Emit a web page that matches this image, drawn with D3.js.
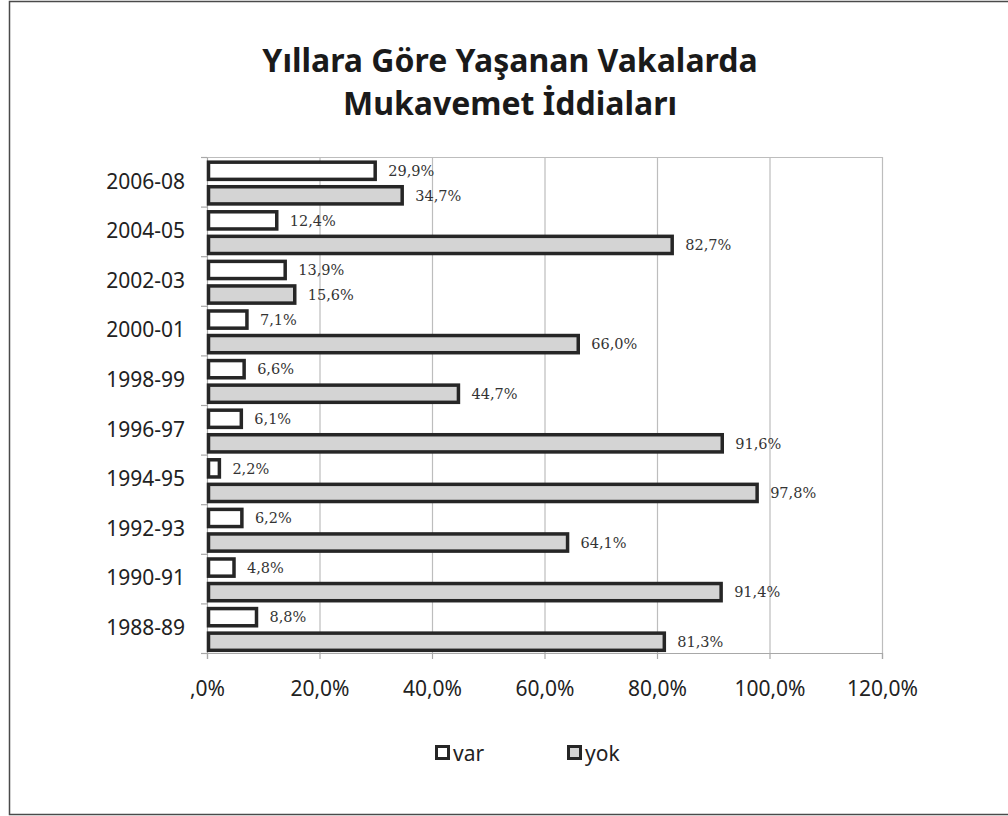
<!DOCTYPE html>
<html>
<head>
<meta charset="utf-8">
<script src="https://cdn.jsdelivr.net/npm/d3@7"></script>
<style>
  html, body { margin: 0; padding: 0; background: #fff; }
  svg { display: block; }
</style>
</head>
<body>
<svg id="chart" width="1008" height="816"></svg>
<script>
// Period categories, listed top to bottom as drawn
const periods = ["2006-08", "2004-05", "2002-03", "2000-01", "1998-99",
                 "1996-97", "1994-95", "1992-93", "1990-91", "1988-89"];
// Share of cases with a resistance claim ("var") and without ("yok"), in percent
const varValues = [29.9, 12.4, 13.9, 7.1, 6.6, 6.1, 2.2, 6.2, 4.8, 8.8];
const yokValues = [34.7, 82.7, 15.6, 66.0, 44.7, 91.6, 97.8, 64.1, 91.4, 81.3];
const seriesNames = ["var", "yok"];
const xTicks = [0, 20, 40, 60, 80, 100, 120];
const titleLines = ["Yıllara Göre Yaşanan Vakalarda", "Mukavemet İddiaları"];

const svg = d3.select("#chart");
const sansFont = "'Noto Sans', 'Open Sans', sans-serif";
const serifFont = "'DejaVu Serif', serif";

// outer frame
svg.append("rect")
  .attr("x", 9.5).attr("y", 1.5).attr("width", 1010).attr("height", 813)
  .attr("fill", "#fff").attr("stroke", "#4a4a4a").attr("stroke-width", 1.5);

// title
svg.append("g").selectAll("text").data(titleLines).join("text")
  .attr("x", 510).attr("y", (d, i) => 72 + i * 43)
  .attr("text-anchor", "middle")
  .attr("font-family", sansFont).attr("font-weight", "bold")
  .attr("font-size", 32).attr("fill", "#1a1a1a")
  .text(d => d);

const plot = { left: 207, right: 882, top: 157, bottom: 653 };

const x = d3.scaleLinear().domain([0, 120]).range([plot.left, plot.right]);
const y = d3.scaleBand().domain(periods).range([plot.top, plot.bottom]).padding(0);
const yInner = d3.scaleBand().domain(seriesNames)
  .range([1.25, y.bandwidth() + 1.25]).paddingInner(0.3).paddingOuter(0.16);

const fmtTick = v => (v === 0 ? "" : d3.format("d")(v)) + ",0%";
const fmtLabel = v => v.toFixed(1).replace(".", ",") + "%";

// vertical gridlines
svg.append("g").selectAll("line").data(xTicks.slice(1)).join("line")
  .attr("x1", d => x(d) + 0.5).attr("x2", d => x(d) + 0.5)
  .attr("y1", plot.top).attr("y2", plot.bottom)
  .attr("stroke", "#bdbdbd").attr("stroke-width", 1.2);

// top border of plot area
svg.append("line")
  .attr("x1", plot.left).attr("x2", plot.right)
  .attr("y1", plot.top + 0.5).attr("y2", plot.top + 0.5)
  .attr("stroke", "#bdbdbd").attr("stroke-width", 1.2);

// x axis
const xAxis = svg.append("g")
  .attr("transform", `translate(0,${plot.bottom})`)
  .call(d3.axisBottom(x).tickValues(xTicks).tickFormat(fmtTick).tickSize(6).tickPadding(22));
xAxis.select(".domain").attr("stroke", "#a8a8a8").attr("stroke-width", 1.2);
xAxis.selectAll(".tick line").attr("stroke", "#a8a8a8").attr("stroke-width", 1.2);
xAxis.selectAll(".tick text")
  .attr("font-family", sansFont).attr("font-size", 21).attr("fill", "#222");

// y axis with ticks at category boundaries
const yAxis = svg.append("g")
  .attr("transform", `translate(${plot.left},0)`)
  .call(d3.axisLeft(y).tickSize(0).tickPadding(22));
yAxis.select(".domain").attr("stroke", "#a8a8a8").attr("stroke-width", 1.2);
yAxis.selectAll(".tick text")
  .attr("font-family", sansFont).attr("font-size", 21).attr("fill", "#222");
const boundaries = periods.map(p => y(p)).concat([plot.bottom]);
svg.append("g").selectAll("line").data(boundaries).join("line")
  .attr("x1", plot.left - 6).attr("x2", plot.left)
  .attr("y1", d => d + 0.5).attr("y2", d => d + 0.5)
  .attr("stroke", "#a8a8a8").attr("stroke-width", 1.2);

// bars
const rows = periods.map((p, i) => ({ period: p, var: varValues[i], yok: yokValues[i] }));
const fills = { var: "#ffffff", yok: "#d4d4d4" };

const groups = svg.append("g").selectAll("g").data(rows).join("g")
  .attr("transform", d => `translate(0,${y(d.period)})`);

groups.selectAll("rect").data(d => seriesNames.map(s => ({ s, v: d[s] }))).join("rect")
  .attr("x", x(0) + 1.5)
  .attr("y", d => yInner(d.s))
  .attr("width", d => x(d.v) - x(0) - 1.5)
  .attr("height", yInner.bandwidth())
  .attr("fill", d => fills[d.s])
  .attr("stroke", "#262626").attr("stroke-width", 3.5);

groups.selectAll("text").data(d => seriesNames.map(s => ({ s, v: d[s] }))).join("text")
  .attr("x", d => x(d.v) + 13)
  .attr("y", d => yInner(d.s) + yInner.bandwidth() / 2)
  .attr("dy", "0.36em")
  .attr("font-family", serifFont).attr("font-size", 14.5).attr("fill", "#333")
  .text(d => fmtLabel(d.v));

// legend
const legendItems = [{ s: "var", x: 435 }, { s: "yok", x: 567 }];
const legend = svg.append("g").selectAll("g").data(legendItems).join("g")
  .attr("transform", d => `translate(${d.x},745)`);
legend.append("rect")
  .attr("x", 1.5).attr("y", 1.5).attr("width", 12).attr("height", 12)
  .attr("fill", d => fills[d.s]).attr("stroke", "#262626").attr("stroke-width", 3);
legend.append("text")
  .attr("x", 18).attr("y", 8).attr("dy", "0.36em")
  .attr("font-family", sansFont).attr("font-size", 21).attr("fill", "#222")
  .text(d => d.s);
</script>
</body>
</html>
